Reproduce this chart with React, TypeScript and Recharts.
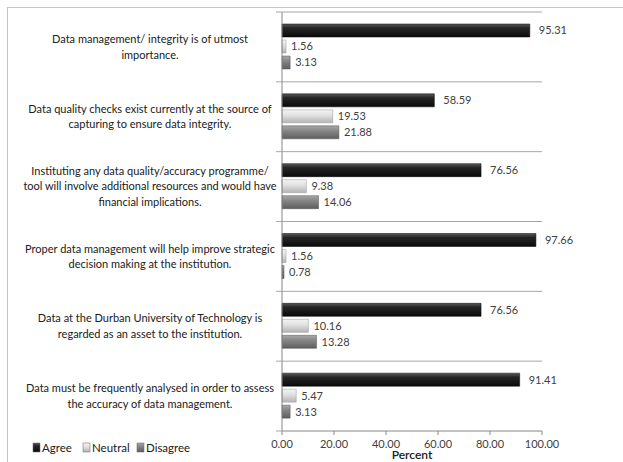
import React from "react";
import {
  Bar,
  BarChart,
  CartesianGrid,
  LabelList,
  XAxis,
  YAxis,
} from "recharts";

const statements = [
  ["Data management/ integrity is of utmost", "importance."],
  ["Data quality checks exist currently at the source of", "capturing to ensure data integrity."],
  [
    "Instituting any data quality/accuracy programme/",
    "tool will involve additional resources and would have",
    "financial implications.",
  ],
  ["Proper data management will help improve strategic", "decision making at the institution."],
  ["Data at the Durban University of Technology is", "regarded as an asset to the institution."],
  ["Data must be frequently analysed in order to assess", "the accuracy of data management."],
];
const agree = [95.31, 58.59, 76.56, 97.66, 76.56, 91.41];
const neutral = [1.56, 19.53, 9.38, 1.56, 10.16, 5.47];
const disagree = [3.13, 21.88, 14.06, 0.78, 13.28, 3.13];
const xTicks = [0, 20, 40, 60, 80, 100];

const data = statements.map((lines, i) => ({
  name: lines.join(" "),
  agree: agree[i],
  neutral: neutral[i],
  disagree: disagree[i],
}));

const FONT = "Lato, 'Open Sans', sans-serif";
const INK = "#404040";
const W = 623;
const H = 462;
const TOP = 12;
const XAXIS_H = 31;
const BAND = (H - TOP - XAXIS_H) / statements.length;

function CategoryTick(props: any) {
  const { y, payload } = props;
  const lines = statements[payload.index] || [payload.value];
  const lh = 15.5;
  const start = y - ((lines.length - 1) * lh) / 2;
  const last = payload.index === statements.length - 1;
  return (
    <g>
      <line x1={276} x2={282} y1={y - BAND / 2} y2={y - BAND / 2} stroke="#a6a6a6" />
      {last && <line x1={276} x2={282} y1={y + BAND / 2} y2={y + BAND / 2} stroke="#a6a6a6" />}
      {lines.map((t: string, k: number) => (
        <text
          key={k}
          x={150}
          y={start + k * lh}
          dy="0.35em"
          textAnchor="middle"
          fontSize={11}
          fontFamily={FONT}
          fill="#202020"
        >
          {t}
        </text>
      ))}
    </g>
  );
}

const legendItems = [
  { label: "Agree", fill: "url(#gAgree)" },
  { label: "Neutral", fill: "url(#gNeutral)" },
  { label: "Disagree", fill: "url(#gDisagree)" },
];

export default function App() {
  return (
    <div
      style={{
        position: "absolute",
        left: 0,
        top: 0,
        width: W,
        height: H,
        background: "#fff",
        overflow: "hidden",
        fontFamily: FONT,
      }}
    >
      <div
        style={{
          position: "absolute",
          left: 7,
          top: 7,
          width: 700,
          height: 600,
          border: "1.5px solid #c4c4c4",
        }}
      />
      <div style={{ position: "absolute", left: 0, top: 0 }}>
        <BarChart
          width={W}
          height={H}
          data={data}
          layout="vertical"
          margin={{ top: TOP, right: 81, bottom: 0, left: 0 }}
          barSize={13}
          barGap={3}
        >
          <defs>
            <linearGradient id="gAgree" x1="0" y1="0" x2="0" y2="1">
              <stop offset="0%" stopColor="#5a5a5a" />
              <stop offset="30%" stopColor="#262626" />
              <stop offset="100%" stopColor="#0a0a0a" />
            </linearGradient>
            <linearGradient id="gNeutral" x1="0" y1="0" x2="0" y2="1">
              <stop offset="0%" stopColor="#f4f4f4" />
              <stop offset="40%" stopColor="#e2e2e2" />
              <stop offset="100%" stopColor="#b4b4b4" />
            </linearGradient>
            <linearGradient id="gDisagree" x1="0" y1="0" x2="0" y2="1">
              <stop offset="0%" stopColor="#a8a8a8" />
              <stop offset="40%" stopColor="#858585" />
              <stop offset="100%" stopColor="#5e5e5e" />
            </linearGradient>
          </defs>
          <CartesianGrid
            vertical={false}
            stroke="#a6a6a6"
            horizontalCoordinatesGenerator={({ offset }: any) =>
              statements.map((_, i) => offset.top + (i * offset.height) / statements.length)
            }
          />
          <XAxis
            type="number"
            domain={[0, 100]}
            ticks={xTicks}
            tickFormatter={(v: number) => v.toFixed(2)}
            stroke="#868686"
            tickSize={4}
            tickMargin={5}
            tick={{ fill: INK, fontSize: 11, fontFamily: FONT }}
            height={XAXIS_H}
            interval={0}
            label={{
              value: "Percent",
              position: "insideBottom",
              offset: 3,
              fill: "#202020",
              fontSize: 12,
              fontFamily: FONT,
              fontWeight: 600,
            }}
          />
          <YAxis
            type="category"
            dataKey="name"
            width={282}
            stroke="#868686"
            tickLine={false}
            tick={<CategoryTick />}
            interval={0}
          />
          <Bar dataKey="agree" fill="url(#gAgree)" stroke="#000" strokeWidth={0.5} isAnimationActive={false}>
            <LabelList dataKey="agree" position="right" offset={9} fill={INK} fontSize={11} fontFamily={FONT} formatter={(v: any) => Number(v).toFixed(2)} />
          </Bar>
          <Bar dataKey="neutral" fill="url(#gNeutral)" stroke="#9a9a9a" strokeWidth={0.5} isAnimationActive={false}>
            <LabelList dataKey="neutral" position="right" offset={5} fill={INK} fontSize={11} fontFamily={FONT} formatter={(v: any) => Number(v).toFixed(2)} />
          </Bar>
          <Bar dataKey="disagree" fill="url(#gDisagree)" stroke="#555" strokeWidth={0.5} isAnimationActive={false}>
            <LabelList dataKey="disagree" position="right" offset={5} fill={INK} fontSize={11} fontFamily={FONT} formatter={(v: any) => Number(v).toFixed(2)} />
          </Bar>
          {/* legend, bottom left */}
          <g>
            {legendItems.map((it, i) => {
              const x = [33, 83, 137][i];
              return (
                <g key={it.label}>
                  <rect x={x} y={443} width={7} height={9} fill={it.fill} stroke="#666" strokeWidth={0.5} />
                  <text x={x + 9} y={448} dy="0.35em" fontSize={11.5} fontFamily={FONT} fill="#202020">
                    {it.label}
                  </text>
                </g>
              );
            })}
          </g>
        </BarChart>
      </div>
    </div>
  );
}
